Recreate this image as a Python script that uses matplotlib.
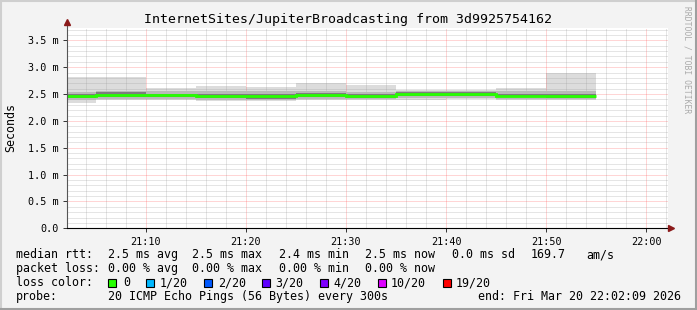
import matplotlib
matplotlib.use("Agg")
import matplotlib.pyplot as plt
from matplotlib.lines import Line2D
from matplotlib.patches import Rectangle
from matplotlib.ticker import MultipleLocator, FixedLocator

# ---------------- data ----------------
start_time = "21:02:09"
end_time = "22:02:09"
segment_ends = ["21:05", "21:10", "21:15", "21:20", "21:25", "21:30",
                "21:35", "21:40", "21:45", "21:50", "21:55"]
# latency in ms per 5-minute step
smoke_max = [2.82, 2.82, 2.62, 2.65, 2.63, 2.71, 2.67, 2.58, 2.58, 2.62, 2.89]
smoke_p90 = [2.54, 2.56, 2.55, 2.55, 2.55, 2.56, 2.54, 2.56, 2.56, 2.55, 2.56]
smoke_p75 = [2.51, 2.53, 2.51, 2.51, 2.50, 2.52, 2.50, 2.53, 2.53, 2.51, 2.51]
median_rtt = [2.47, 2.49, 2.48, 2.46, 2.46, 2.48, 2.46, 2.50, 2.50, 2.47, 2.47]
smoke_p25 = [2.42, 2.44, 2.44, 2.42, 2.41, 2.44, 2.42, 2.46, 2.46, 2.44, 2.43]
smoke_p10 = [2.38, 2.41, 2.41, 2.39, 2.39, 2.41, 2.40, 2.42, 2.42, 2.41, 2.40]
smoke_min = [2.33, 2.39, 2.38, 2.37, 2.37, 2.39, 2.39, 2.39, 2.40, 2.39, 2.38]

y_ticks = [0.0, 0.5, 1.0, 1.5, 2.0, 2.5, 3.0, 3.5]
y_tick_labels = ["0.0", "0.5 m", "1.0 m", "1.5 m", "2.0 m", "2.5 m", "3.0 m", "3.5 m"]
x_tick_labels = ["21:10", "21:20", "21:30", "21:40", "21:50", "22:00"]

loss_labels = ["0", "1/20", "2/20", "3/20", "4/20", "10/20", "19/20"]
loss_colors = ["#26ff00", "#00b8ff", "#0059ff", "#5e00ff", "#7e00ff", "#dd00ff", "#ff0000"]

title = "InternetSites/JupiterBroadcasting from 3d9925754162"
rtt_row = ["median rtt:", "2.5 ms avg", "2.5 ms max", "2.4 ms min", "2.5 ms now", "0.0 ms sd", "169.7", "am/s"]
loss_row = ["packet loss:", "0.00 % avg", "0.00 % max", "0.00 % min", "0.00 % now"]
probe_text = "20 ICMP Echo Pings (56 Bytes) every 300s"
end_text = "end: Fri Mar 20 22:02:09 2026"


def to_min(s):
    parts = [int(p) for p in s.split(":")]
    h, m = parts[0], parts[1]
    sec = parts[2] if len(parts) > 2 else 0
    return (h - 21) * 60 + m + sec / 60.0


# ---------------- figure ----------------
W, H = 697, 310
MONO = "DejaVu Sans Mono"
fig = plt.figure(figsize=(W / 100, H / 100), dpi=100, facecolor="#f3f3f3")

L, R, T, B = 67, 668, 28, 228.3
ax = fig.add_axes([L / W, 1 - B / H, (R - L) / W, (B - T) / H])
ax.set_facecolor("white")

x0, x1 = to_min(start_time), to_min(end_time)
edges = [x0] + [to_min(s) for s in segment_ends]

ax.stairs(smoke_max, edges, baseline=smoke_min, fill=True, color="#dcdcdc", lw=0, zorder=2)
ax.stairs(smoke_p90, edges, baseline=smoke_p10, fill=True, color="#b9b9b9", lw=0, zorder=3)
ax.stairs(smoke_p75, edges, baseline=smoke_p25, fill=True, color="#7d7d7d", lw=0, zorder=4)
ax.stairs(median_rtt, edges, baseline=None, color=loss_colors[0], lw=2.0, zorder=6)

ax.set_xlim(x0, x1)
ax.set_ylim(0, 3.73)

xt = [to_min(s) for s in x_tick_labels]
ax.xaxis.set_major_locator(FixedLocator(xt))
ax.set_xticklabels(x_tick_labels, family=MONO, fontsize=7.3)
ax.xaxis.set_minor_locator(MultipleLocator(2))
ax.yaxis.set_major_locator(FixedLocator(y_ticks))
ax.set_yticklabels(y_tick_labels, family=MONO, fontsize=7.3)
ax.yaxis.set_minor_locator(MultipleLocator(0.1))

ax.tick_params(which="major", length=3, width=0.7, color="#333333", pad=3)
ax.tick_params(which="minor", length=0)

ax.grid(which="minor", color="#999999", alpha=0.5, lw=0.72, ls=(0, (1, 1)), zorder=7)
ax.grid(which="major", color="#ff3030", alpha=0.4, lw=0.72, ls=(0, (1, 1)), zorder=7)
ax.set_axisbelow(False)

for s in ax.spines.values():
    s.set_visible(False)

# axis lines with arrows
ax.add_line(Line2D([0, 0], [0, 1.03], transform=ax.transAxes, color="#555555",
                   lw=0.8, clip_on=False, zorder=10))
ax.add_line(Line2D([0, 1.005], [0, 0], transform=ax.transAxes, color="black",
                   lw=0.8, clip_on=False, zorder=10))
ax.plot([0], [1.03], marker="^", ms=4, color="#8b1a1a", transform=ax.transAxes,
        clip_on=False, zorder=11)
ax.plot([1.005], [0], marker=">", ms=4, color="#8b1a1a", transform=ax.transAxes,
        clip_on=False, zorder=11)


def ftxt(x, y, s, **kw):
    kw.setdefault("family", MONO)
    kw.setdefault("fontsize", 8.4)
    kw.setdefault("va", "center")
    kw.setdefault("ha", "left")
    kw.setdefault("color", "black")
    fig.text(x / W, 1 - y / H, s, **kw)


ftxt(348, 19.5, title, ha="center", fontsize=9.5)
ftxt(11, 127, "Seconds", ha="center", rotation=90)
ftxt(687, 60, "RRDTOOL / TOBI OETIKER", ha="center", rotation=270,
     fontsize=5.8, color="#aaaaaa")

# legend rows
rtt_x = [16, 107.6, 192, 279, 365, 451.6, 530.7, 586.7]
for x, s in zip(rtt_x, rtt_row):
    ftxt(x, 254.5, s)
loss_x = [16, 107.6, 192, 279, 365]
for x, s in zip(loss_x, loss_row):
    ftxt(x, 268.5, s)
ftxt(16, 282.5, "loss color:")
box_x = [108.4, 145.8, 203.6, 262.2, 320.0, 377.8, 442.7]
lab_x = [123, 160, 217.8, 275.6, 333.3, 391, 456]
for bx, lx, c, s in zip(box_x, lab_x, loss_colors, loss_labels):
    fig.patches.append(Rectangle((bx / W, 1 - 286.5 / H), 8 / W, 8 / H,
                                 transform=fig.transFigure, facecolor=c,
                                 edgecolor="black", lw=0.8))
    ftxt(lx, 282.5, s)
ftxt(16, 296.5, "probe:")
ftxt(107.6, 296.5, probe_text)
ftxt(478.2, 296.5, end_text)

# frame
fig.add_artist(Line2D([0, 1], [1 - 1 / H, 1 - 1 / H], transform=fig.transFigure, color="#cfcfcf", lw=1.5))
fig.add_artist(Line2D([1 / W, 1 / W], [0, 1], transform=fig.transFigure, color="#cfcfcf", lw=1.5))
fig.add_artist(Line2D([0, 1], [1 / H, 1 / H], transform=fig.transFigure, color="#9f9f9f", lw=1.5))
fig.add_artist(Line2D([1 - 1 / W, 1 - 1 / W], [0, 1], transform=fig.transFigure, color="#9f9f9f", lw=1.5))

fig.savefig("out.png", dpi=100, facecolor=fig.get_facecolor())
